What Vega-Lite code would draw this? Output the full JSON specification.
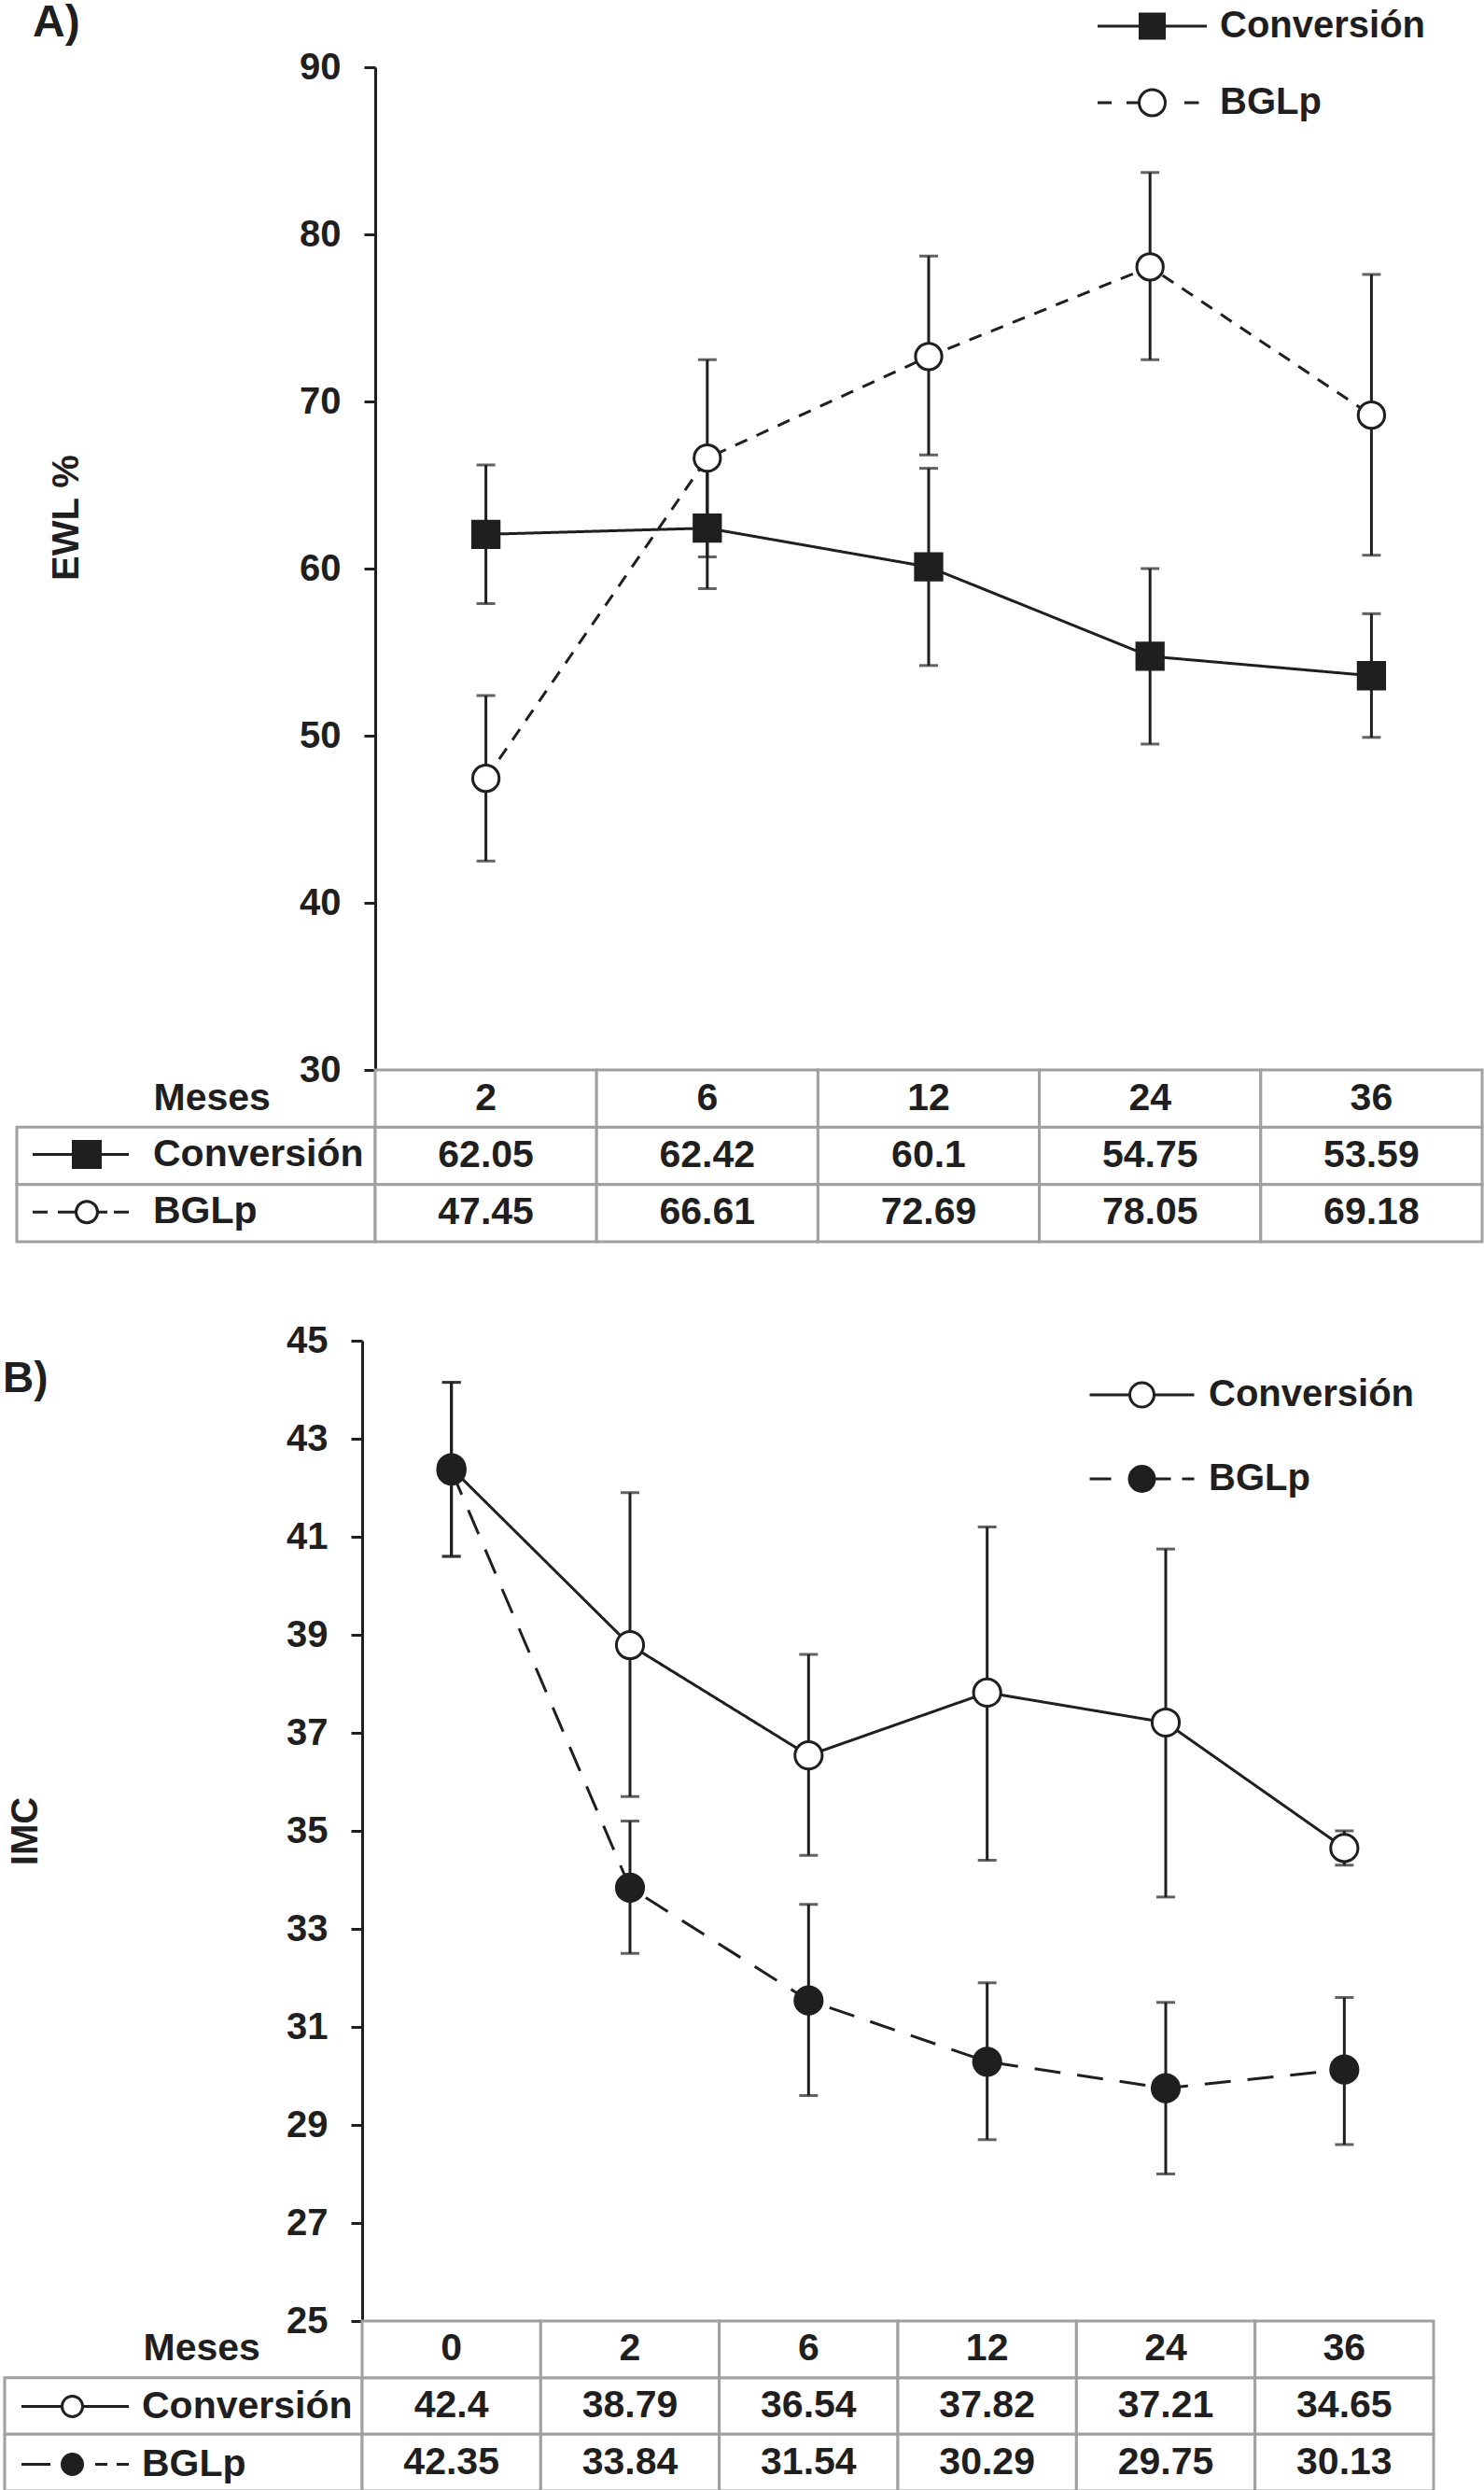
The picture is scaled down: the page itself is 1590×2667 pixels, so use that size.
{
  "$schema": "https://vega.github.io/schema/vega-lite/v6.json",
  "background": "white",
  "padding": {"left": 0, "top": 1, "right": 0, "bottom": 0},
  "config": {
    "view": {"stroke": null},
    "font": "Liberation Sans",
    "axis": {
      "labelFont": "Liberation Sans", "labelFontWeight": "bold", "labelFontSize": 40, "labelColor": "#1f1f1f",
      "titleFont": "Liberation Sans", "titleFontWeight": "bold", "titleFontSize": 40, "titleColor": "#1f1f1f",
      "domainColor": "#1f1f1f", "domainWidth": 3, "tickColor": "#1f1f1f", "tickWidth": 3, "tickSize": 12,
      "grid": false, "labelPadding": 25
    },
    "legend": {
      "padding": 0, "titlePadding": 0, "symbolSize": 100, "symbolStrokeWidth": 3, "symbolOpacity": 1,
      "labelFont": "Liberation Sans", "labelFontWeight": "bold", "labelColor": "#1f1f1f", "labelLimit": 0
    },
    "title": {"font": "Liberation Sans", "fontWeight": "bold", "color": "#1f1f1f"}
  },
  "datasets": {
    "ewl": [
      {"mes": 2, "grupo": "Conversión", "valor": 62.05, "lo": 57.9, "hi": 66.2},
      {"mes": 6, "grupo": "Conversión", "valor": 62.42, "lo": 58.8, "hi": 66.1},
      {"mes": 12, "grupo": "Conversión", "valor": 60.1, "lo": 54.2, "hi": 66.0},
      {"mes": 24, "grupo": "Conversión", "valor": 54.75, "lo": 49.5, "hi": 60.0},
      {"mes": 36, "grupo": "Conversión", "valor": 53.59, "lo": 49.9, "hi": 57.3},
      {"mes": 2, "grupo": "BGLp", "valor": 47.45, "lo": 42.5, "hi": 52.4},
      {"mes": 6, "grupo": "BGLp", "valor": 66.61, "lo": 60.7, "hi": 72.5},
      {"mes": 12, "grupo": "BGLp", "valor": 72.69, "lo": 66.8, "hi": 78.7},
      {"mes": 24, "grupo": "BGLp", "valor": 78.05, "lo": 72.5, "hi": 83.7},
      {"mes": 36, "grupo": "BGLp", "valor": 69.18, "lo": 60.8, "hi": 77.6}
    ],
    "imc": [
      {"mes": 0, "grupo": "Conversión", "valor": 42.4, "lo": 40.6, "hi": 44.15},
      {"mes": 2, "grupo": "Conversión", "valor": 38.79, "lo": 35.7, "hi": 41.9},
      {"mes": 6, "grupo": "Conversión", "valor": 36.54, "lo": 34.5, "hi": 38.6},
      {"mes": 12, "grupo": "Conversión", "valor": 37.82, "lo": 34.4, "hi": 41.2},
      {"mes": 24, "grupo": "Conversión", "valor": 37.21, "lo": 33.65, "hi": 40.75},
      {"mes": 36, "grupo": "Conversión", "valor": 34.65, "lo": 34.3, "hi": 35.0},
      {"mes": 0, "grupo": "BGLp", "valor": 42.35, "lo": 40.6, "hi": 44.15},
      {"mes": 2, "grupo": "BGLp", "valor": 33.84, "lo": 32.5, "hi": 35.2},
      {"mes": 6, "grupo": "BGLp", "valor": 31.54, "lo": 29.6, "hi": 33.5},
      {"mes": 12, "grupo": "BGLp", "valor": 30.29, "lo": 28.7, "hi": 31.9},
      {"mes": 24, "grupo": "BGLp", "valor": 29.75, "lo": 28.0, "hi": 31.5},
      {"mes": 36, "grupo": "BGLp", "valor": 30.13, "lo": 28.6, "hi": 31.6}
    ]
  },
  "vconcat": [
    {
      "columns": 2,
      "spacing": 0,
      "bounds": "flush",
      "resolve": {
        "scale": {"shape": "independent", "fill": "independent", "stroke": "independent"},
        "legend": {"shape": "independent", "fill": "independent", "stroke": "independent"}
      },
      "concat": [
        {
          "width": 402, "height": 1074,
          "title": {"text": "A)", "anchor": "start", "frame": "group", "dx": 35, "offset": -15, "baseline": "alphabetic", "fontSize": 48},
          "data": {"values": []},
          "mark": "point"
        },
        {
          "width": 1186, "height": 1074,
          "data": {"name": "ewl"},
          "encoding": {
            "x": {"field": "mes", "type": "ordinal", "scale": {"type": "band", "paddingInner": 0, "paddingOuter": 0}, "axis": null}
          },
          "layer": [
            {
              "mark": {"type": "rule", "strokeWidth": 3, "color": "#1f1f1f"},
              "encoding": {
                "y": {"field": "lo", "type": "quantitative", "scale": {"domain": [30, 90], "nice": false, "zero": false},
                  "axis": {"values": [30, 40, 50, 60, 70, 80, 90], "title": "EWL %", "titlePadding": 229, "titleY": 482}},
                "y2": {"field": "hi"}
              }
            },
            {
              "mark": {"type": "tick", "size": 20, "thickness": 3, "color": "#1f1f1f"},
              "encoding": {"y": {"field": "lo", "type": "quantitative"}}
            },
            {
              "mark": {"type": "tick", "size": 20, "thickness": 3, "color": "#1f1f1f"},
              "encoding": {"y": {"field": "hi", "type": "quantitative"}}
            },
            {
              "mark": {"type": "line", "strokeWidth": 3, "color": "#1f1f1f"},
              "encoding": {
                "y": {"field": "valor", "type": "quantitative"},
                "detail": {"field": "grupo", "type": "nominal"},
                "strokeDash": {"condition": {"test": "datum.grupo === 'BGLp'", "value": [14, 11]}, "value": [1, 0]}
              }
            },
            {
              "mark": {"type": "point", "filled": true, "size": 800, "stroke": "#1f1f1f", "strokeWidth": 3, "opacity": 1},
              "encoding": {
                "y": {"field": "valor", "type": "quantitative"},
                "fill": {"condition": {"test": "datum.grupo === 'BGLp'", "value": "white"}, "value": "#1f1f1f"},
                "shape": {"condition": {"test": "datum.grupo === 'BGLp'", "value": "circle"}, "value": "square"}
              }
            },
            {
              "mark": {"type": "point", "filled": true, "opacity": 0, "strokeWidth": 3},
              "encoding": {
                "shape": {"field": "grupo", "type": "nominal",
                  "scale": {"domain": ["Conversión", "BGLp"],
                    "range": ["M-11.7,0H11.7M-2.6,-2.6H2.6V2.6H-2.6Z",
                      "M-11.7,0H-8.7M-5.5,0H-2.8M6.9,0H10M2.8,0A2.8,2.8,0,1,1,-2.8,0A2.8,2.8,0,1,1,2.8,0Z"]},
                  "legend": {"title": null, "orient": "none", "legendX": 812.5, "legendY": -64,
                    "labelOffset": 52.5, "rowPadding": 42, "labelFontSize": 40}},
                "fill": {"field": "grupo", "type": "nominal",
                  "scale": {"domain": ["Conversión", "BGLp"], "range": ["#1f1f1f", "white"]},
                  "legend": {"title": null, "orient": "none", "legendX": 812.5, "legendY": -64,
                    "labelOffset": 52.5, "rowPadding": 42, "labelFontSize": 40}},
                "stroke": {"field": "grupo", "type": "nominal",
                  "scale": {"domain": ["Conversión", "BGLp"], "range": ["#1f1f1f", "#1f1f1f"]},
                  "legend": {"title": null, "orient": "none", "legendX": 812.5, "legendY": -64,
                    "labelOffset": 52.5, "rowPadding": 42, "labelFontSize": 40}}
              }
            }
          ]
        },
        {
          "width": 402, "height": 184,
          "data": {"name": "ewl"},
          "transform": [{"aggregate": [{"op": "count", "as": "n"}], "groupby": ["grupo"]}],
          "encoding": {
            "y": {"field": "grupo", "type": "nominal",
              "scale": {"domain": ["Meses", "Conversión", "BGLp"], "paddingInner": 0, "paddingOuter": 0},
              "axis": {"values": ["Meses"], "title": null, "domain": false, "ticks": false, "tickSize": 0,
                "labelPadding": -164, "labelAlign": "left", "labelFontSize": 41}}
          },
          "layer": [
            {
              "mark": {"type": "rect", "fill": "white", "stroke": "#a0a0a0", "strokeWidth": 3},
              "encoding": {"x": {"datum": "lab", "type": "nominal", "scale": {"range": [18, 402]}, "axis": null}}
            },
            {
              "mark": {"type": "point", "filled": true, "opacity": 0, "strokeWidth": 3},
              "encoding": {
                "shape": {"field": "grupo", "type": "nominal",
                  "scale": {"domain": ["Conversión", "BGLp"],
                    "range": ["M-10.3,0H10.3M-1.6,-2.8H4.2V2.8H-1.6Z",
                      "M-10.3,0H-7.1M-4.9,0H-1M3.6,0H5.7M7.1,0H10.3M3.6,0A2.3,2.3,0,1,1,-1,0A2.3,2.3,0,1,1,3.6,0Z"]},
                  "legend": {"title": null, "orient": "none", "legendX": 66, "legendY": 70,
                    "labelOffset": 57, "rowPadding": 19.7, "labelFontSize": 41}},
                "fill": {"field": "grupo", "type": "nominal",
                  "scale": {"domain": ["Conversión", "BGLp"], "range": ["#1f1f1f", "white"]},
                  "legend": {"title": null, "orient": "none", "legendX": 66, "legendY": 70,
                    "labelOffset": 57, "rowPadding": 19.7, "labelFontSize": 41}},
                "stroke": {"field": "grupo", "type": "nominal",
                  "scale": {"domain": ["Conversión", "BGLp"], "range": ["#1f1f1f", "#1f1f1f"]},
                  "legend": {"title": null, "orient": "none", "legendX": 66, "legendY": 70,
                    "labelOffset": 57, "rowPadding": 19.7, "labelFontSize": 41}}
              }
            }
          ]
        },
        {
          "width": 1186, "height": 184,
          "data": {"name": "ewl"},
          "encoding": {
            "x": {"field": "mes", "type": "ordinal", "scale": {"type": "band", "paddingInner": 0, "paddingOuter": 0}, "axis": null},
            "y": {"field": "grupo", "type": "nominal",
              "scale": {"domain": ["Meses", "Conversión", "BGLp"], "paddingInner": 0, "paddingOuter": 0}, "axis": null}
          },
          "layer": [
            {"mark": {"type": "rect", "fill": "white", "stroke": "#a0a0a0", "strokeWidth": 3}},
            {
              "mark": {"type": "text", "fontWeight": "bold", "fontSize": 41, "color": "#1f1f1f"},
              "encoding": {"text": {"field": "valor", "type": "nominal"}}
            },
            {
              "transform": [{"aggregate": [{"op": "count", "as": "n"}], "groupby": ["mes"]}],
              "mark": {"type": "rect", "fill": "white", "stroke": "#a0a0a0", "strokeWidth": 3},
              "encoding": {"y": {"datum": "Meses"}}
            },
            {
              "transform": [{"aggregate": [{"op": "count", "as": "n"}], "groupby": ["mes"]}],
              "mark": {"type": "text", "fontWeight": "bold", "fontSize": 41, "color": "#1f1f1f"},
              "encoding": {"y": {"datum": "Meses"}, "text": {"field": "mes", "type": "nominal"}}
            }
          ]
        }
      ]
    },
    {
      "columns": 2,
      "spacing": 0,
      "bounds": "flush",
      "resolve": {
        "scale": {"shape": "independent", "fill": "independent", "stroke": "independent"},
        "legend": {"shape": "independent", "fill": "independent", "stroke": "independent"}
      },
      "concat": [
        {
          "width": 388, "height": 1050,
          "title": {"text": "B)", "anchor": "start", "frame": "group", "dx": 3, "offset": -101, "baseline": "alphabetic", "fontSize": 46},
          "data": {"values": []},
          "mark": "point"
        },
        {
          "width": 1148, "height": 1050,
          "data": {"name": "imc"},
          "encoding": {
            "x": {"field": "mes", "type": "ordinal", "scale": {"type": "band", "paddingInner": 0, "paddingOuter": 0}, "axis": null}
          },
          "layer": [
            {
              "mark": {"type": "rule", "strokeWidth": 3, "color": "#1f1f1f"},
              "encoding": {
                "y": {"field": "lo", "type": "quantitative", "scale": {"domain": [25, 45], "nice": false, "zero": false},
                  "axis": {"values": [25, 27, 29, 31, 33, 35, 37, 39, 41, 43, 45], "title": "IMC", "titlePadding": 259}},
                "y2": {"field": "hi"}
              }
            },
            {
              "mark": {"type": "tick", "size": 20, "thickness": 3, "color": "#1f1f1f"},
              "encoding": {"y": {"field": "lo", "type": "quantitative"}}
            },
            {
              "mark": {"type": "tick", "size": 20, "thickness": 3, "color": "#1f1f1f"},
              "encoding": {"y": {"field": "hi", "type": "quantitative"}}
            },
            {
              "mark": {"type": "line", "strokeWidth": 3, "color": "#1f1f1f"},
              "encoding": {
                "y": {"field": "valor", "type": "quantitative"},
                "detail": {"field": "grupo", "type": "nominal"},
                "strokeDash": {"condition": {"test": "datum.grupo === 'BGLp'", "value": [28, 18]}, "value": [1, 0]}
              }
            },
            {
              "mark": {"type": "point", "filled": true, "size": 850, "shape": "circle", "stroke": "#1f1f1f", "strokeWidth": 3, "opacity": 1},
              "encoding": {
                "y": {"field": "valor", "type": "quantitative"},
                "fill": {"condition": {"test": "datum.grupo === 'Conversión'", "value": "white"}, "value": "#1f1f1f"}
              }
            },
            {
              "mark": {"type": "point", "filled": true, "opacity": 0, "strokeWidth": 3},
              "encoding": {
                "shape": {"field": "grupo", "type": "nominal",
                  "scale": {"domain": ["Conversión", "BGLp"],
                    "range": ["M-11.2,0H-2.6M2.6,0H11.2M2.6,0A2.6,2.6,0,1,1,-2.6,0A2.6,2.6,0,1,1,2.6,0Z",
                      "M-11.2,0H-6.6M2.6,0H6.2M8.6,0H11.2M2.7,0A2.7,2.7,0,1,1,-2.7,0A2.7,2.7,0,1,1,2.7,0Z"]},
                  "legend": {"title": null, "orient": "none", "legendX": 815.5, "legendY": 38,
                    "labelOffset": 51.5, "rowPadding": 50, "labelFontSize": 40}},
                "fill": {"field": "grupo", "type": "nominal",
                  "scale": {"domain": ["Conversión", "BGLp"], "range": ["white", "#1f1f1f"]},
                  "legend": {"title": null, "orient": "none", "legendX": 815.5, "legendY": 38,
                    "labelOffset": 51.5, "rowPadding": 50, "labelFontSize": 40}},
                "stroke": {"field": "grupo", "type": "nominal",
                  "scale": {"domain": ["Conversión", "BGLp"], "range": ["#1f1f1f", "#1f1f1f"]},
                  "legend": {"title": null, "orient": "none", "legendX": 815.5, "legendY": 38,
                    "labelOffset": 51.5, "rowPadding": 50, "labelFontSize": 40}}
              }
            }
          ]
        },
        {
          "width": 388, "height": 182,
          "data": {"name": "imc"},
          "transform": [{"aggregate": [{"op": "count", "as": "n"}], "groupby": ["grupo"]}],
          "encoding": {
            "y": {"field": "grupo", "type": "nominal",
              "scale": {"domain": ["Meses", "Conversión", "BGLp"], "paddingInner": 0, "paddingOuter": 0},
              "axis": {"values": ["Meses"], "title": null, "domain": false, "ticks": false, "tickSize": 0,
                "labelPadding": -153, "labelAlign": "left", "labelFontSize": 41}}
          },
          "layer": [
            {
              "mark": {"type": "rect", "fill": "white", "stroke": "#a0a0a0", "strokeWidth": 3},
              "encoding": {"x": {"datum": "lab", "type": "nominal", "scale": {"range": [5, 388]}, "axis": null}}
            },
            {
              "mark": {"type": "point", "filled": true, "opacity": 0, "strokeWidth": 3},
              "encoding": {
                "shape": {"field": "grupo", "type": "nominal",
                  "scale": {"domain": ["Conversión", "BGLp"],
                    "range": ["M-11.5,0H-2.8M1.6,0H11.5M1.6,0A2.2,2.2,0,1,1,-2.8,0A2.2,2.2,0,1,1,1.6,0Z",
                      "M-11.5,0H-5.3M4.3,0H6.9M8.9,0H11.5M1.6,0A2.2,2.2,0,1,1,-2.8,0A2.2,2.2,0,1,1,1.6,0Z"]},
                  "legend": {"title": null, "orient": "none", "legendX": 60, "legendY": 71,
                    "labelOffset": 51, "rowPadding": 20, "labelFontSize": 41}},
                "fill": {"field": "grupo", "type": "nominal",
                  "scale": {"domain": ["Conversión", "BGLp"], "range": ["white", "#1f1f1f"]},
                  "legend": {"title": null, "orient": "none", "legendX": 60, "legendY": 71,
                    "labelOffset": 51, "rowPadding": 20, "labelFontSize": 41}},
                "stroke": {"field": "grupo", "type": "nominal",
                  "scale": {"domain": ["Conversión", "BGLp"], "range": ["#1f1f1f", "#1f1f1f"]},
                  "legend": {"title": null, "orient": "none", "legendX": 60, "legendY": 71,
                    "labelOffset": 51, "rowPadding": 20, "labelFontSize": 41}}
              }
            }
          ]
        },
        {
          "width": 1148, "height": 182,
          "data": {"name": "imc"},
          "encoding": {
            "x": {"field": "mes", "type": "ordinal", "scale": {"type": "band", "paddingInner": 0, "paddingOuter": 0}, "axis": null},
            "y": {"field": "grupo", "type": "nominal",
              "scale": {"domain": ["Meses", "Conversión", "BGLp"], "paddingInner": 0, "paddingOuter": 0}, "axis": null}
          },
          "layer": [
            {"mark": {"type": "rect", "fill": "white", "stroke": "#a0a0a0", "strokeWidth": 3}},
            {
              "mark": {"type": "text", "fontWeight": "bold", "fontSize": 41, "color": "#1f1f1f"},
              "encoding": {"text": {"field": "valor", "type": "nominal"}}
            },
            {
              "transform": [{"aggregate": [{"op": "count", "as": "n"}], "groupby": ["mes"]}],
              "mark": {"type": "rect", "fill": "white", "stroke": "#a0a0a0", "strokeWidth": 3},
              "encoding": {"y": {"datum": "Meses"}}
            },
            {
              "transform": [{"aggregate": [{"op": "count", "as": "n"}], "groupby": ["mes"]}],
              "mark": {"type": "text", "fontWeight": "bold", "fontSize": 41, "color": "#1f1f1f"},
              "encoding": {"y": {"datum": "Meses"}, "text": {"field": "mes", "type": "nominal"}}
            }
          ]
        }
      ]
    }
  ],
  "spacing": 84,
  "resolve": {
    "scale": {"shape": "independent", "fill": "independent", "stroke": "independent"},
    "legend": {"shape": "independent", "fill": "independent", "stroke": "independent"}
  }
}
